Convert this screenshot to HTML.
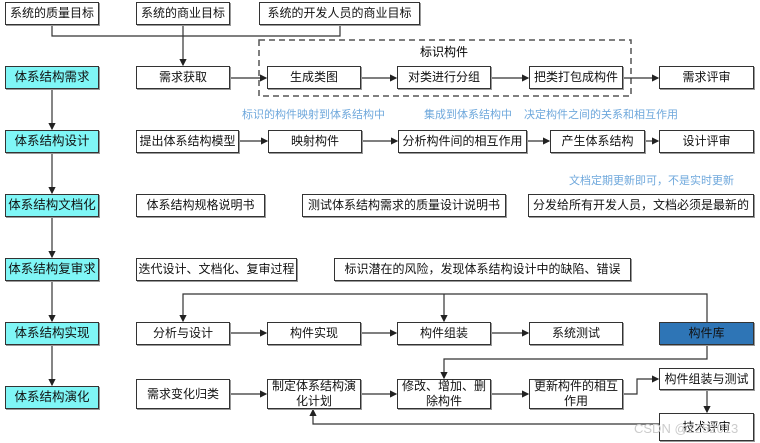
<!DOCTYPE html>
<html><head><meta charset="utf-8"><style>
body{margin:0;background:#fff;width:760px;height:443px;overflow:hidden;position:relative;font-family:"Liberation Sans","Noto Sans CJK SC",sans-serif}
.b{position:absolute;box-sizing:border-box;border:1.3px solid #333;background:#fff;display:flex;align-items:center;justify-content:center;text-align:center;font-size:12px;color:#111;line-height:15px;box-shadow:1px 1px 0 #999}
.c{background:#7ff6f6;font-size:12.5px}
.t{position:absolute;font-size:11px;color:#6fa8dc;white-space:nowrap}
svg{position:absolute;left:0;top:0}
</style></head><body>
<svg width="760" height="443">
<defs><marker id="a" markerWidth="6" markerHeight="6" refX="5" refY="3" orient="auto"><path d="M0,0L6,3L0,6z" fill="#222"/></marker></defs>
<g stroke="#333" stroke-width="1.2" fill="none">
<rect x="259" y="40" width="372" height="56" stroke="#555" stroke-width="1.5" stroke-dasharray="6,4"/>
<path d="M52,25V36H340V25"/><path d="M183,25V65" marker-end="url(#a)"/>
<path d="M52,89V129" marker-end="url(#a)"/><path d="M52,153V193" marker-end="url(#a)"/><path d="M52,217V257" marker-end="url(#a)"/><path d="M52,281V321" marker-end="url(#a)"/><path d="M52,345V385" marker-end="url(#a)"/>
<path d="M230,78H266" marker-end="url(#a)"/><path d="M361,78H396" marker-end="url(#a)"/><path d="M491,78H528" marker-end="url(#a)"/><path d="M623,78H658" marker-end="url(#a)"/>
<path d="M239,141H267" marker-end="url(#a)"/><path d="M362,141H397" marker-end="url(#a)"/><path d="M527,141H549" marker-end="url(#a)"/><path d="M645,141H658" marker-end="url(#a)"/>
<path d="M707,322V294H183V321" marker-end="url(#a)"/><path d="M444,294V321" marker-end="url(#a)"/>
<path d="M230,333H266" marker-end="url(#a)"/><path d="M361,333H396" marker-end="url(#a)"/><path d="M491,333H528" marker-end="url(#a)"/>
<path d="M707,345V359H444V378" marker-end="url(#a)"/>
<path d="M230,394H266" marker-end="url(#a)"/><path d="M361,394H396" marker-end="url(#a)"/><path d="M491,394H528" marker-end="url(#a)"/>
<path d="M623,394H637V379H658" marker-end="url(#a)"/><path d="M707,390V412" marker-end="url(#a)"/>
<path d="M659,424H313V410" marker-end="url(#a)"/>
</g></svg>
<div class="b" style="left:5px;top:2px;width:94px;height:23px">系统的质量目标</div>
<div class="b" style="left:136px;top:2px;width:94px;height:23px">系统的商业目标</div>
<div class="b" style="left:259px;top:2px;width:161px;height:23px">系统的开发人员的商业目标</div>
<div style="position:absolute;left:420px;top:43px;font-size:12px">标识构件</div>
<div class="b c" style="left:5px;top:66px;width:94px;height:23px">体系结构需求</div>
<div class="b" style="left:136px;top:66px;width:94px;height:23px">需求获取</div>
<div class="b" style="left:267px;top:66px;width:94px;height:23px">生成类图</div>
<div class="b" style="left:397px;top:66px;width:94px;height:23px">对类进行分组</div>
<div class="b" style="left:529px;top:66px;width:94px;height:23px">把类打包成构件</div>
<div class="b" style="left:659px;top:66px;width:95px;height:23px">需求评审</div>
<div class="t" style="left:242px;top:106px">标识的构件映射到体系结构中</div>
<div class="t" style="left:424px;top:106px">集成到体系结构中</div>
<div class="t" style="left:524px;top:106px">决定构件之间的关系和相互作用</div>
<div class="b c" style="left:5px;top:130px;width:94px;height:23px">体系结构设计</div>
<div class="b" style="left:136px;top:130px;width:103px;height:23px">提出体系结构模型</div>
<div class="b" style="left:268px;top:130px;width:94px;height:23px">映射构件</div>
<div class="b" style="left:398px;top:130px;width:129px;height:23px">分析构件间的相互作用</div>
<div class="b" style="left:550px;top:130px;width:95px;height:23px">产生体系结构</div>
<div class="b" style="left:659px;top:130px;width:95px;height:23px">设计评审</div>
<div class="t" style="left:569px;top:172px">文档定期更新即可，不是实时更新</div>
<div class="b c" style="left:5px;top:194px;width:94px;height:23px">体系结构文档化</div>
<div class="b" style="left:136px;top:194px;width:129px;height:23px">体系结构规格说明书</div>
<div class="b" style="left:302px;top:194px;width:204px;height:23px">测试体系结构需求的质量设计说明书</div>
<div class="b" style="left:528px;top:194px;width:226px;height:23px">分发给所有开发人员，文档必须是最新的</div>
<div class="b c" style="left:5px;top:258px;width:94px;height:23px">体系结构复审求</div>
<div class="b" style="left:136px;top:258px;width:161px;height:23px">迭代设计、文档化、复审过程</div>
<div class="b" style="left:334px;top:258px;width:297px;height:23px">标识潜在的风险，发现体系结构设计中的缺陷、错误</div>
<div class="b c" style="left:5px;top:322px;width:94px;height:23px">体系结构实现</div>
<div class="b" style="left:136px;top:322px;width:94px;height:23px">分析与设计</div>
<div class="b" style="left:267px;top:322px;width:94px;height:23px">构件实现</div>
<div class="b" style="left:397px;top:322px;width:94px;height:23px">构件组装</div>
<div class="b" style="left:529px;top:322px;width:94px;height:23px">系统测试</div>
<div class="b" style="left:659px;top:322px;width:95px;height:23px;background:#2e75b6">构件库</div>
<div class="b c" style="left:5px;top:386px;width:94px;height:23px">体系结构演化</div>
<div class="b" style="left:136px;top:379px;width:94px;height:30px">需求变化归类</div>
<div class="b" style="left:267px;top:379px;width:94px;height:30px">制定体系结构演化计划</div>
<div class="b" style="left:397px;top:379px;width:94px;height:30px">修改、增加、删除构件</div>
<div class="b" style="left:529px;top:379px;width:94px;height:30px">更新构件的相互作用</div>
<div class="b" style="left:659px;top:368px;width:95px;height:22px">构件组装与测试</div>
<div class="b" style="left:659px;top:413px;width:95px;height:28px">技术评审</div>
<div style="position:absolute;left:634px;top:421px;font-size:13px;color:#ccc">CSDN @2252013</div>
</body></html>
